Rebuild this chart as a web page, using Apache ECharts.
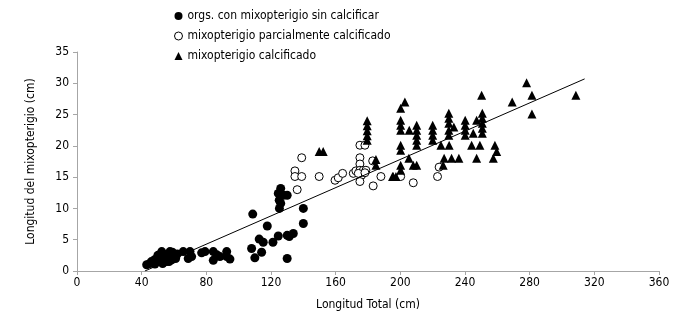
<!DOCTYPE html>
<html>
<head>
<meta charset="utf-8">
<script src="https://cdn.jsdelivr.net/npm/echarts@6/dist/echarts.min.js"></script>
<style>
  html, body { margin: 0; padding: 0; background: #fff; }
  #chart { width: 693px; height: 317px; }
</style>
</head>
<body>
<div id="chart"></div>
<script>
// [longitud total, longitud mixopterigio]
var sinCalcificar = [
  [43.1, 1.0], [45.1, 1.2], [46, 1.5], [47.2, 1.5], [48.2, 1.1], [48, 1.8], [49.3, 1.8],
  [50, 2.5], [51, 1.5], [51.3, 2.0], [52.4, 3.1], [53, 1.2], [53.4, 1.8], [54.4, 2.6],
  [55, 2.0], [55.5, 1.5], [56.5, 2.3], [57, 1.5], [57.5, 3.1], [58.6, 1.8], [59, 3.0],
  [59.6, 2.3], [61, 2.0], [62, 2.7], [65.7, 3.1], [68.8, 2.0], [69.9, 3.1], [70.9, 2.3],
  [77.1, 2.9], [79.2, 3.1], [84.3, 3.1], [84.3, 1.7], [86.4, 2.6], [88.4, 2.3],
  [92.6, 3.1], [92.6, 2.3], [94.6, 1.9],
  [108, 3.6], [108.7, 9.1], [110, 2.1], [112.7, 5.1], [114.2, 3.0], [115.2, 4.6],
  [117.7, 7.2], [121.2, 4.6], [124.5, 5.6], [124.5, 12.4], [125.1, 11.3], [125.2, 10.0],
  [126, 13.2], [126, 10.8], [127.6, 12.1], [130, 12.1], [130, 5.7], [130, 2.0],
  [131.3, 5.5], [133.8, 6.0], [140, 10.0], [140, 7.6]
];
var parcial = [
  [139, 18.1], [134.8, 16.0], [134.8, 15.1], [139, 15.1], [136.2, 13.0], [149.8, 15.1],
  [159.6, 14.5], [161.6, 14.9], [164.3, 15.6], [170.9, 15.6], [172.5, 16.0], [175, 20.1],
  [178.1, 20.1], [175, 18.1], [175, 17.1], [175, 16.1], [176, 15.3], [175, 14.3],
  [177.1, 16.1], [178.7, 16.1], [174, 15.6], [178.1, 15.7], [182.9, 17.6], [183.2, 13.6],
  [188, 15.1], [200.2, 15.1], [208, 14.1], [224, 16.6], [223, 15.1]
];
var calcificado = [
  [149.8, 19.1], [152.3, 19.1],
  [179.5, 24.0], [179.5, 23.2], [179.5, 22.4], [179.5, 21.6], [179.5, 20.9],
  [184.9, 17.8], [184.9, 16.9], [195.2, 15.1], [195.6, 15.1], [197.3, 15.1],
  [202.8, 27.0], [200.2, 26.0], [200.2, 24.1], [200.2, 23.3], [200.2, 22.5], [200.2, 20.1],
  [200.2, 19.3], [200.2, 16.9], [200.2, 16.1], [205.5, 22.5], [205.3, 18.0],
  [210.1, 23.3], [210.1, 22.5], [210.1, 21.7], [210.1, 20.9], [210.1, 20.1],
  [208, 16.9], [210.1, 16.9],
  [220, 23.3], [220, 22.5], [220, 21.7], [220, 20.9], [225.1, 20.1], [230.2, 20.1],
  [230, 25.2], [230, 24.4], [230, 23.6], [230, 22.5], [230, 21.7], [233.1, 23.0],
  [227.1, 18.0], [231.7, 18.0], [236.2, 18.0], [226.5, 16.9],
  [240.1, 24.1], [240.1, 23.3], [240.1, 22.5], [240.1, 21.7], [245.1, 22.0],
  [244.1, 20.1], [249.2, 20.1], [247.2, 18.0], [247.2, 24.1],
  [250.7, 25.2], [250.7, 24.4], [250.7, 23.6], [250.7, 22.8], [250.7, 22.0], [250.3, 28.1],
  [258.5, 20.1], [259.6, 19.1], [257.5, 18.0],
  [269.2, 27.0], [278.1, 30.1], [281.4, 28.1], [281.4, 25.1], [308.6, 28.1]
];
var regresion = [[42, 0], [314, 30.7]];

var xTicks = { min: 0, max: 360, interval: 40 };
var yTicks = { min: 0, max: 35, interval: 5 };

var font = "'Liberation Sans Narrow', 'DejaVu Sans Condensed', 'Liberation Sans', sans-serif";

var chart = echarts.init(document.getElementById('chart'));

var option = {
  animation: false,
  textStyle: { fontFamily: font },
  legend: {
    orient: 'vertical',
    left: 169,
    top: 4,
    itemWidth: 8,
    itemHeight: 8,
    itemGap: 6,
    itemStyle: { borderWidth: 1 },
    textStyle: { fontFamily: font, fontSize: 12, color: '#000', lineHeight: 14 },
    data: [
      { name: 'orgs. con mixopterigio sin calcificar', icon: 'circle' },
      { name: 'mixopterigio parcialmente calcificado', icon: 'circle' },
      { name: 'mixopterigio calcificado', icon: 'triangle' }
    ]
  },
  grid: { left: 77, right: 34, top: 52, bottom: 46 },
  xAxis: {
    type: 'value',
    min: xTicks.min,
    max: xTicks.max,
    interval: xTicks.interval,
    name: 'Longitud Total (cm)',
    nameLocation: 'middle',
    nameGap: 28,
    nameTextStyle: { fontFamily: font, fontSize: 12, color: '#000' },
    axisLine: { lineStyle: { color: '#a6a6a6', width: 1 } },
    axisTick: { show: true, length: 4, lineStyle: { color: '#a6a6a6' } },
    axisLabel: { fontFamily: font, fontSize: 12, color: '#000', margin: 6 },
    splitLine: { show: false }
  },
  yAxis: {
    type: 'value',
    min: yTicks.min,
    max: yTicks.max,
    interval: yTicks.interval,
    name: 'Longitud del mixopterigio (cm)',
    nameLocation: 'middle',
    nameGap: 40,
    nameTextStyle: { fontFamily: font, fontSize: 12, color: '#000' },
    axisLine: { show: true, lineStyle: { color: '#a6a6a6', width: 1 } },
    axisTick: { show: true, length: 4, lineStyle: { color: '#a6a6a6' } },
    axisLabel: { fontFamily: font, fontSize: 12, color: '#000', margin: 8 },
    splitLine: { show: false }
  },
  series: [
    {
      name: 'orgs. con mixopterigio sin calcificar',
      type: 'scatter',
      symbol: 'circle',
      symbolSize: 9,
      itemStyle: { color: '#000', opacity: 1 },
      data: sinCalcificar
    },
    {
      name: 'mixopterigio parcialmente calcificado',
      type: 'scatter',
      symbol: 'circle',
      symbolSize: 8,
      itemStyle: { color: '#fff', borderColor: '#000', borderWidth: 1, opacity: 1 },
      data: parcial
    },
    {
      name: 'mixopterigio calcificado',
      type: 'scatter',
      symbol: 'triangle',
      symbolSize: 9,
      itemStyle: { color: '#000', opacity: 1 },
      data: calcificado
    },
    {
      name: 'regresion',
      type: 'line',
      symbol: 'none',
      z: 5,
      lineStyle: { color: '#000', width: 1 },
      data: regresion
    }
  ]
};

chart.setOption(option);
</script>
</body>
</html>
